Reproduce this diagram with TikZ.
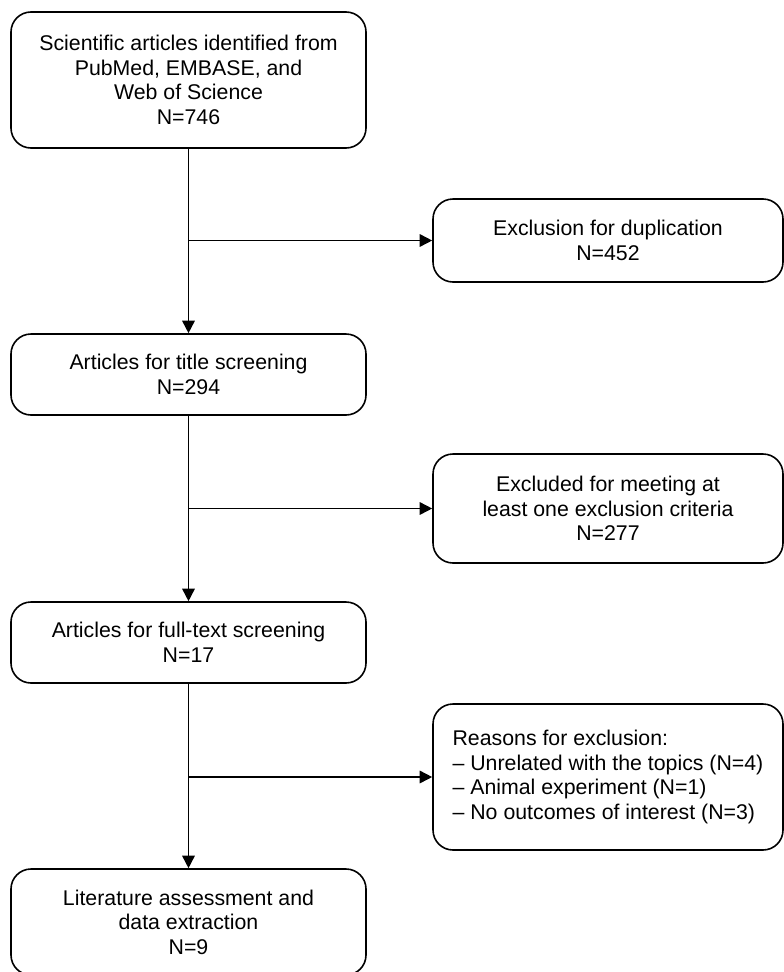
\documentclass[tikz,border=0pt]{standalone}
\usepackage{fontspec}
\setmainfont{Liberation Sans}
\usetikzlibrary{arrows.meta}
\begin{document}
\begin{tikzpicture}[x=1pt,y=-1pt,
 box/.style={draw=black, line width=1.6pt, rounded corners=20pt, inner sep=0pt, align=center, font=\fontsize{21.3}{24.5}\selectfont},
 leftbox/.style={box, minimum width=355pt},
 rightbox/.style={box, minimum width=350pt},
 conn/.style={draw=black, line width=1.6pt, -{Triangle[length=12.5pt,width=12.5pt]}},
]
\useasboundingbox (0,0) rectangle (784,972);
\node[leftbox, minimum height=136pt] (b1) at (188.5,80) {Scientific articles identified from\\PubMed, EMBASE, and\\Web of Science\\N=746};
\node[rightbox, minimum height=83pt] (b2) at (608,240.5) {Exclusion for duplication\\N=452};
\node[leftbox, minimum height=81pt] (b3) at (188.5,374.5) {Articles for title screening\\N=294};
\node[rightbox, minimum height=109pt] (b4) at (608,508.5) {Excluded for meeting at\\least one exclusion criteria\\N=277};
\node[leftbox, minimum height=81pt] (b5) at (188.5,642.5) {Articles for full-text screening\\N=17};
\node[rightbox, minimum height=146pt, align=left] (b6) at (608,777) {Reasons for exclusion:\\– Unrelated with the topics (N=4)\\– Animal experiment (N=1)\\– No outcomes of interest (N=3)};
\node[leftbox, minimum height=106pt] (b7) at (188.5,922) {Literature assessment and\\data extraction\\N=9};
\draw[conn] (b1.south) -- (b3.north);
\draw[conn] (b3.south) -- (b5.north);
\draw[conn] (b5.south) -- (b7.north);
\draw[conn] (b1.south |- b2.west) -- (b2.west);
\draw[conn] (b3.south |- b4.west) -- (b4.west);
\draw[conn] (b5.south |- b6.west) -- (b6.west);
\end{tikzpicture}
\end{document}
